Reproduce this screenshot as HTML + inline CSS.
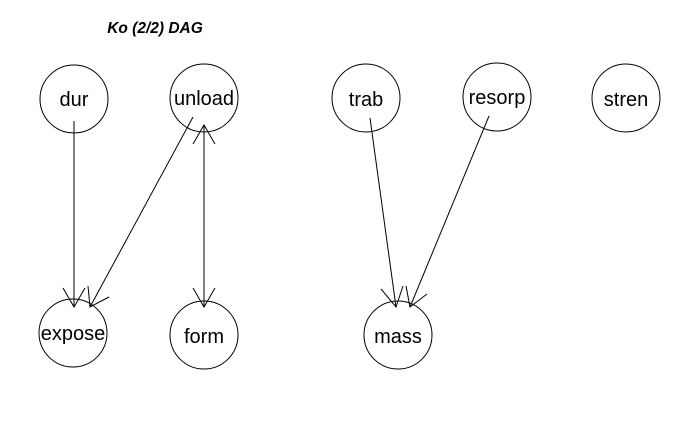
<!DOCTYPE html>
<html><head><style>body{margin:0;background:#fff}</style></head><body>
<svg width="700" height="432" viewBox="0 0 700 432" xmlns="http://www.w3.org/2000/svg">
<rect width="700" height="432" fill="#fff"/>
<text x="155" y="33" text-anchor="middle" font-family="Liberation Sans, sans-serif" font-size="15.5" font-weight="bold" font-style="italic">Ko (2/2) DAG</text>
<g fill="none" stroke="#000" stroke-width="1">
<circle cx="74" cy="99" r="34"/>
<circle cx="204" cy="98" r="34"/>
<circle cx="366" cy="98" r="34"/>
<circle cx="497" cy="97" r="34"/>
<circle cx="626" cy="98" r="34"/>
<circle cx="73" cy="333" r="34"/>
<circle cx="204" cy="335" r="34"/>
<circle cx="398" cy="335" r="34"/>
<line x1="74" y1="121" x2="74" y2="307"/>
<polyline points="63,288 74,307 85,288"/>
<line x1="193" y1="117" x2="90" y2="307"/>
<polyline points="88,286 90,307 109,297"/>
<line x1="204" y1="125" x2="204" y2="307"/>
<polyline points="193,288 204,307 215,288"/>
<polyline points="193,144 204,125 215,144"/>
<line x1="370" y1="118" x2="396" y2="307"/>
<polyline points="381,289 396,307 403,286"/>
<line x1="489" y1="116" x2="410" y2="307"/>
<polyline points="406,286 410,307 427,294"/>
</g>
<g font-family="Liberation Sans, sans-serif" font-size="20" text-anchor="middle">
<text x="74" y="106">dur</text>
<text x="204" y="105">unload</text>
<text x="366" y="106">trab</text>
<text x="497" y="104">resorp</text>
<text x="626" y="106">stren</text>
<text x="73" y="340">expose</text>
<text x="204" y="343">form</text>
<text x="398" y="343">mass</text>
</g>
</svg>
</body></html>
